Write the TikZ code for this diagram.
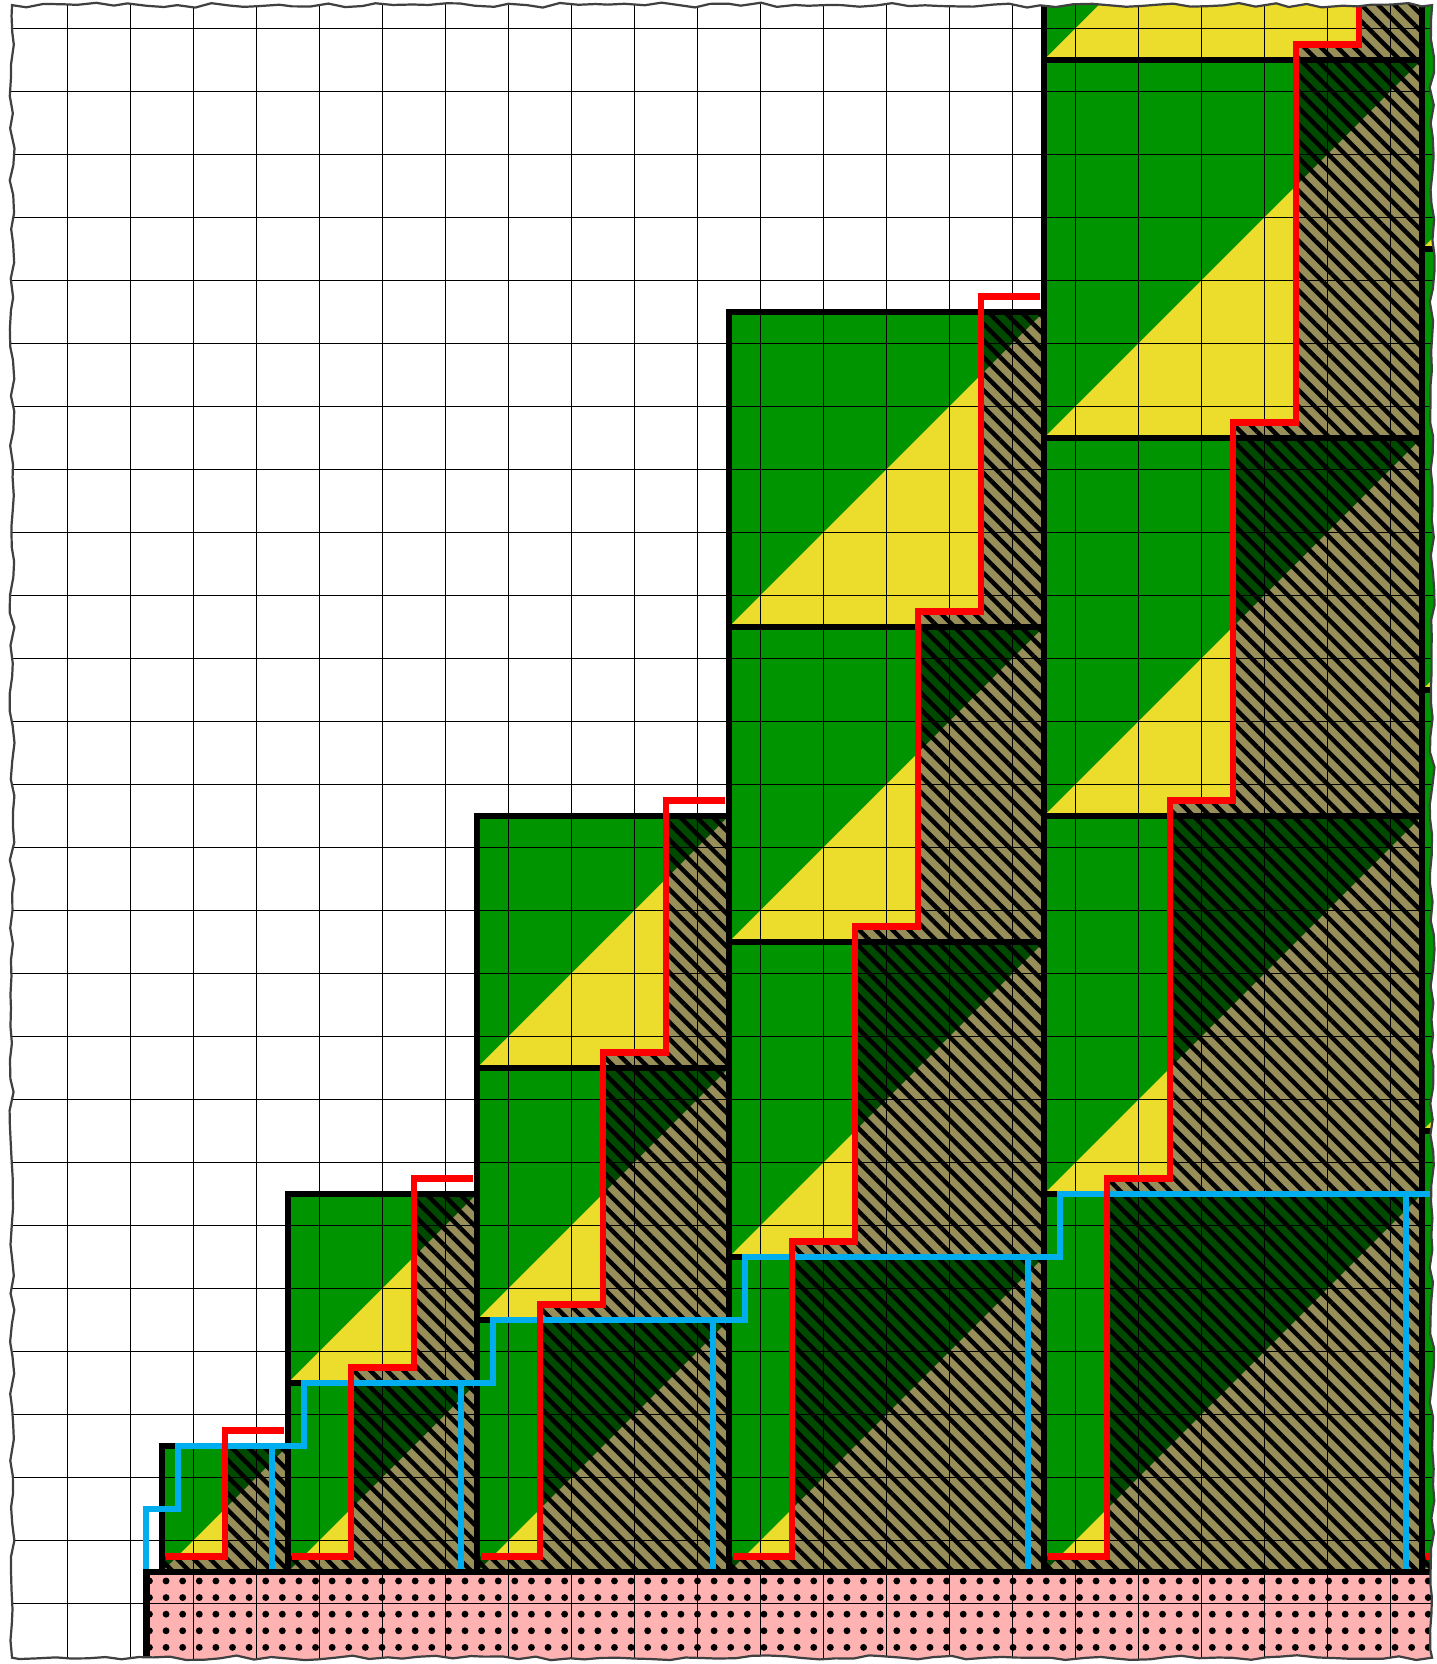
\documentclass[tikz,border=0pt]{standalone}
\usetikzlibrary{patterns,patterns.meta,decorations.pathmorphing}
\definecolor{sqgreen}{RGB}{0,148,0}
\definecolor{sqyellow}{RGB}{236,220,44}
\definecolor{sqolive}{RGB}{152,142,90}
\definecolor{sqdark}{RGB}{0,74,0}
\definecolor{basepink}{RGB}{255,178,178}
\definecolor{stairblue}{RGB}{0,174,239}
\begin{document}
\begin{tikzpicture}[x=0.4cm,y=0.4cm,
  boxline/.style={line width=1.2pt, black},
  redline/.style={line width=1.2pt, red},
  blueline/.style={line width=1.15pt, stairblue},
  gridline/.style={line width=0.32pt, black},
  hatchfill/.style={pattern={Lines[angle=-45,distance=2.12pt,line width=0.8pt]}, pattern color=black},
  dotfill/.style={pattern={Dots[distance=3pt,radius=0.62pt]}, pattern color=black},
  torn/.style={decorate, decoration={random steps, segment length=3pt, amplitude=0.45pt}},
]
\useasboundingbox (-2.571,-1.460) rectangle (20.222,24.952);
\fill[white] (-2.571,-1.460) rectangle (20.222,24.952);
\pgfmathsetseed{4242}
\begin{scope}
\clip[torn] (-2.38,-1.36) rectangle (20.16,24.87);
% base
\fill[basepink] (-0.25,-2) rectangle (21,0);
\fill[dotfill] (-0.25,-2) rectangle (21,0);
% squares
\foreach \k/\L in {1/0,2/2,3/5,4/9,5/14,6/20} {
  \pgfmathtruncatemacro{\w}{\k+1}
  \foreach \j in {1,...,\k} {
    \fill[sqgreen] (\L,{(\j-1)*\w}) rectangle ({\L+\w},{\j*\w});
    \fill[sqyellow] (\L,{(\j-1)*\w}) -- ({\L+\w},{(\j-1)*\w}) -- ({\L+\w},{\j*\w}) -- cycle;
  }
  \begin{scope}
    \clip (\L,0) rectangle ({\L+\w},0.25)
      \foreach \j in {1,...,\k} { ({\L+\j},{(\j-1)*\w+0.25}) rectangle ({\L+\w},{min(\j*\w+0.25,\k*\w)}) };
    \foreach \j in {1,...,\k} {
      \fill[sqdark] (\L,{(\j-1)*\w}) rectangle ({\L+\w},{\j*\w});
      \fill[sqolive] (\L,{(\j-1)*\w}) -- ({\L+\w},{(\j-1)*\w}) -- ({\L+\w},{\j*\w}) -- cycle;
    }
    \fill[hatchfill] (\L,0) rectangle ({\L+\w},{\k*\w});
  \end{scope}
}
% grid
\foreach \i in {-3,...,20} \draw[gridline] ({\i+0.5},-2) -- ({\i+0.5},25);
\foreach \i in {-2,...,24} \draw[gridline] (-3,{\i+0.5}) -- (21,{\i+0.5});
% box outlines
\foreach \k/\L in {1/0,2/2,3/5,4/9,5/14,6/20} {
  \pgfmathtruncatemacro{\w}{\k+1}
  \draw[boxline] (\L,0) rectangle ({\L+\w},{\k*\w});
  \foreach \j in {1,...,\k} \draw[boxline] (\L,{\j*\w}) -- ({\L+\w},{\j*\w});
}
% blue staircase
\draw[blueline] (-0.25,0) -- (-0.25,1) -- (0.25,1) -- (0.25,2) -- (2.25,2) -- (2.25,3)
  -- (5.25,3) -- (5.25,4) -- (9.25,4) -- (9.25,5) -- (14.25,5) -- (14.25,6)
  -- (20.25,6) -- (20.25,7) -- (27.25,7);
\foreach \x/\y in {1.75/2,4.75/3,8.75/4,13.75/5,19.75/6}
  \draw[blueline] (\x,\y) -- (\x,0);
% base outline
\draw[boxline] (-0.25,-2) -- (-0.25,0) -- (21,0);
% red staircases
\foreach \k/\L in {1/0,2/2,3/5,4/9,5/14,6/20} {
  \pgfmathtruncatemacro{\w}{\k+1}
  \draw[redline] ({\L+0.06},0.25)
    \foreach \j in {1,...,\k} { -- ({\L+\j},{(\j-1)*\w+0.25}) -- ({\L+\j},{\j*\w+0.25}) }
    -- ({\L+\w-0.06},{\k*\w+0.25});
}
\end{scope}
\pgfmathsetseed{4242}
\draw[torn, line width=0.4pt, black!75] (-2.38,-1.36) rectangle (20.16,24.87);
\end{tikzpicture}
\end{document}
